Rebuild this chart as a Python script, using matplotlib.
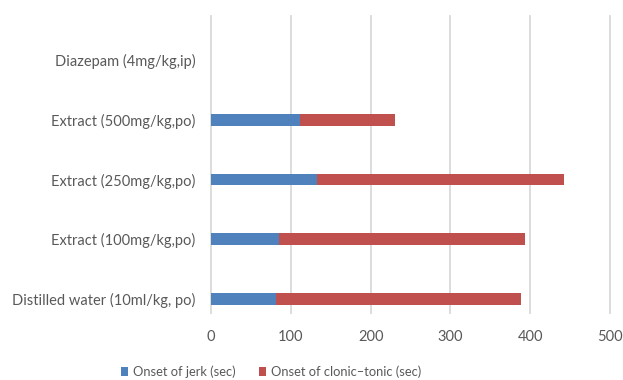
import numpy as np
import matplotlib.pyplot as plt

plt.rcParams['font.family'] = ['Lato', 'DejaVu Sans']

groups = ['Distilled water (10ml/kg, po)', 'Extract (100mg/kg,po)',
          'Extract (250mg/kg,po)', 'Extract (500mg/kg,po)',
          'Diazepam (4mg/kg,ip)']
jerk = [81, 85, 133, 111, 0]
clonic_tonic = [307, 309, 309, 120, 0]
xticks = [0, 100, 200, 300, 400, 500]

blue = '#4F81BD'
red = '#C0504D'
grid_c = '#D9D9D9'
text_c = '#595959'

fig = plt.figure(figsize=(6.23, 3.8), dpi=100)
W, H = 623, 380
# plot area in pixels: left 211, right 610, top 30, bottom 329
ax = fig.add_axes([211 / W, 1 - 329 / H, (610 - 211) / W, (329 - 30) / H])

y = np.arange(len(groups))
ax.barh(y, jerk, height=0.2, color=blue, label='Onset of jerk (sec)', zorder=3)
ax.barh(y, clonic_tonic, left=jerk, height=0.2, color=red,
        label='Onset of clonic–tonic (sec)', zorder=3)

ax.set_xlim(0, 500)
ax.set_ylim(-0.5, len(groups) - 0.5)

# vertical gridlines
tr = ax.get_xaxis_transform()
for t in xticks:
    ax.plot([t, t], [(329 - 313) / 299, (329 - 16) / 299], color=grid_c,
            lw=1.3, transform=tr, clip_on=False, zorder=1)

for s in ax.spines.values():
    s.set_visible(False)

ax.set_yticks(y)
ax.set_yticklabels(groups)
ax.set_xticks(xticks)
ax.tick_params(length=0, labelsize=10.5, colors=text_c)
ax.tick_params(axis='y', pad=11)
ax.tick_params(axis='x', pad=1)

ax.legend(loc='center', bbox_to_anchor=(271 / W, 1 - 372 / H),
          bbox_transform=fig.transFigure, ncol=2, frameon=False,
          fontsize=9.3, labelcolor=text_c, handlelength=0.55, handleheight=0.65,
          handletextpad=0.4, columnspacing=1.8, borderpad=0)

fig.savefig('out.png', dpi=100)
